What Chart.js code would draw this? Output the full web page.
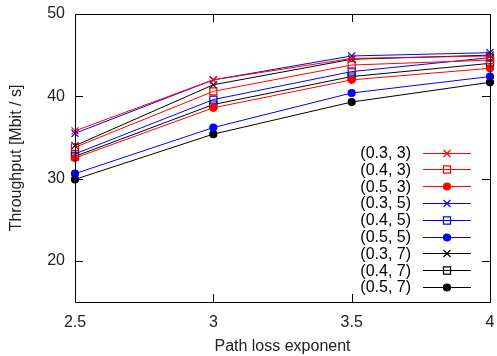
<!DOCTYPE html>
<html>
<head>
<meta charset="utf-8">
<script src="https://cdn.jsdelivr.net/npm/chart.js@4.4.1/dist/chart.umd.min.js"></script>
<style>
  html, body { margin: 0; padding: 0; background: #fff; }
  #wrap { width: 497px; height: 356px; position: relative; }
</style>
</head>
<body>
<div id="wrap"><canvas id="c" width="497" height="356"></canvas></div>
<script>
// ---- data ----
const pathLossExponents = [2.5, 3, 3.5, 4];
const yTickValues = [20, 30, 40, 50];
const xTickValues = [2.5, 3, 3.5, 4];
const seriesLabels = ['(0.3, 3)', '(0.4, 3)', '(0.5, 3)', '(0.3, 5)', '(0.4, 5)', '(0.5, 5)', '(0.3, 7)', '(0.4, 7)', '(0.5, 7)'];
const s03_3 = [35.8, 42.0, 44.6, 44.9];
const s04_3 = [33.8, 40.6, 43.8, 44.4];
const s05_3 = [32.5, 38.6, 42.0, 43.4];
const s03_5 = [35.5, 42.0, 44.9, 45.3];
const s04_5 = [33.0, 39.6, 43.0, 44.7];
const s05_5 = [30.6, 36.2, 40.4, 42.4];
const s03_7 = [34.0, 41.4, 44.5, 45.0];
const s04_7 = [32.7, 39.0, 42.4, 44.0];
const s05_7 = [29.9, 35.4, 39.3, 41.7];

const seriesValues = [s03_3, s04_3, s05_3, s03_5, s04_5, s05_5, s03_7, s04_7, s05_7];
const seriesColors = ['#ff0000', '#ff0000', '#ff0000', '#0000ff', '#0000ff', '#0000ff', '#000000', '#000000', '#000000'];
const seriesMarkers = ['crossRot', 'rect', 'circle', 'crossRot', 'rect', 'circle', 'crossRot', 'rect', 'circle'];

function markerRadius(m) { return m === 'circle' ? 3.5 : 5; }
function markerFill(m, col) { return m === 'circle' ? col : 'rgba(0,0,0,0)'; }

const datasets = seriesLabels.map((lab, i) => ({
  label: lab,
  data: pathLossExponents.map((x, j) => ({ x: x, y: seriesValues[i][j] })),
  borderColor: seriesColors[i],
  backgroundColor: markerFill(seriesMarkers[i], seriesColors[i]),
  borderWidth: 1,
  pointStyle: seriesMarkers[i],
  pointRadius: markerRadius(seriesMarkers[i]),
  pointBorderWidth: 1.2,
  pointBorderColor: seriesColors[i],
  pointBackgroundColor: markerFill(seriesMarkers[i], seriesColors[i]),
  tension: 0,
  fill: false,
  clip: false
}));

const FONT = '"Liberation Sans", Arial, Helvetica, sans-serif';

const framePlugin = {
  id: 'frame',
  afterDatasetsDraw(chart) {
    const ctx = chart.ctx;
    const a = chart.chartArea;
    const xs = chart.scales.x, ys = chart.scales.y;
    ctx.save();
    ctx.strokeStyle = '#000';
    ctx.lineWidth = 1;
    ctx.beginPath();
    ctx.rect(Math.round(a.left) + 0.5, Math.round(a.top) + 0.5, Math.round(a.right - a.left), Math.round(a.bottom - a.top));
    ctx.stroke();
    const tl = 8;
    ctx.beginPath();
    yTickValues.forEach(v => {
      const y = Math.round(ys.getPixelForValue(v)) + 0.5;
      ctx.moveTo(a.left, y); ctx.lineTo(a.left + tl, y);
      ctx.moveTo(a.right, y); ctx.lineTo(a.right - tl, y);
    });
    xTickValues.forEach(v => {
      const x = Math.round(xs.getPixelForValue(v)) + 0.5;
      ctx.moveTo(x, a.bottom); ctx.lineTo(x, a.bottom - tl);
      ctx.moveTo(x, a.top); ctx.lineTo(x, a.top + tl);
    });
    ctx.stroke();

    // legend
    const textRight = 411, lineL = 423, lineR = 471, y0 = 152.5, dy = 16.8;
    ctx.font = '16px ' + FONT;
    ctx.textAlign = 'right';
    ctx.textBaseline = 'middle';
    chart.data.datasets.forEach((ds, i) => {
      const y = y0 + i * dy;
      ctx.fillStyle = '#000';
      ctx.fillText(ds.label, textRight, y + 1);
      ctx.strokeStyle = ds.borderColor;
      ctx.lineWidth = 1;
      ctx.beginPath();
      ctx.moveTo(lineL, Math.round(y) + 0.5);
      ctx.lineTo(lineR, Math.round(y) + 0.5);
      ctx.stroke();
      ctx.fillStyle = ds.pointBackgroundColor;
      ctx.strokeStyle = ds.pointBorderColor;
      ctx.lineWidth = 1.2;
      Chart.helpers.drawPoint(ctx, { pointStyle: ds.pointStyle, radius: ds.pointRadius, borderWidth: 1.2, rotation: 0 }, (lineL + lineR) / 2, Math.round(y) + 0.5);
    });
    ctx.restore();
  }
};

new Chart(document.getElementById('c'), {
  type: 'line',
  data: { datasets: datasets },
  plugins: [framePlugin],
  options: {
    responsive: false,
    animation: false,
    layout: { padding: { top: 14, right: 7, left: 0, bottom: 0 } },
    plugins: { legend: { display: false }, tooltip: { enabled: false } },
    scales: {
      x: {
        type: 'linear',
        min: 2.5, max: 4,
        afterBuildTicks(s) { s.ticks = xTickValues.map(v => ({ value: v })); },
        afterFit(s) { s.height = 54; s.paddingLeft = 0; s.paddingRight = 0; },
        grid: { display: false, drawTicks: false },
        border: { display: false },
        ticks: {
          padding: 11,
          color: '#222',
          font: { family: FONT, size: 16 },
          callback: v => String(v)
        },
        title: {
          display: true,
          text: 'Path loss exponent',
          color: '#222',
          font: { family: FONT, size: 16 },
          padding: { top: 0, bottom: 0 }
        }
      },
      y: {
        type: 'linear',
        min: 15, max: 50,
        afterBuildTicks(s) { s.ticks = yTickValues.map(v => ({ value: v })); },
        afterFit(s) { s.width = 75; s.paddingTop = 0; s.paddingBottom = 0; },
        grid: { display: false, drawTicks: false },
        border: { display: false },
        ticks: {
          padding: 10,
          color: '#222',
          font: { family: FONT, size: 16 },
          callback: v => String(v)
        },
        title: {
          display: true,
          text: 'Throughput [Mbit / s]',
          color: '#222',
          font: { family: FONT, size: 16 },
          padding: { top: 7, bottom: 0 }
        }
      }
    }
  }
});
</script>
</body>
</html>
